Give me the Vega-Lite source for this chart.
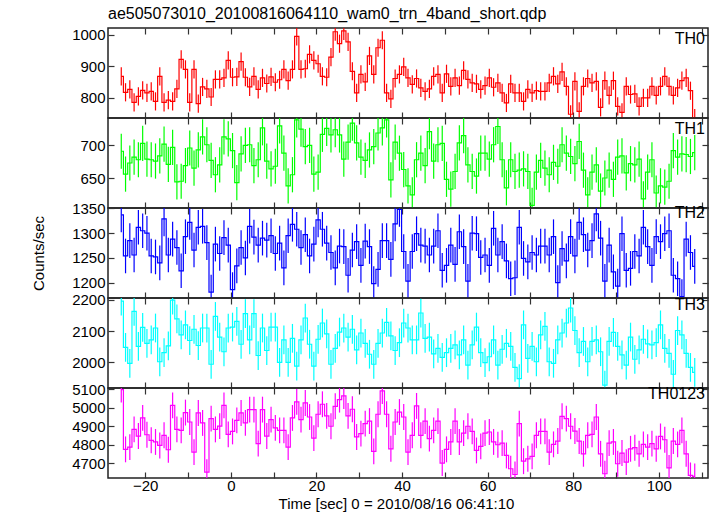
{
"$schema":"https://vega.github.io/schema/vega-lite/v6.json",
"background":"white",
"padding":{"left":30,"top":5,"right":5,"bottom":5},
"title":{"text":"ae505073010_20100816064110_wam0_trn_4band_short.qdp","anchor":"start","frame":"group","fontSize":16,"fontWeight":"normal","font":"Liberation Sans","color":"#000","offset":5},
"config":{
 "font":"Liberation Sans",
 "view":{"stroke":"#222","strokeWidth":1.5},
 "axis":{"labelFont":"Liberation Sans","labelFontSize":15,"labelColor":"#000","tickColor":"#333","tickSize":-6,"tickWidth":1.2,"domain":false,"grid":false,"titleFont":"Liberation Sans","titleFontSize":15,"titleFontWeight":"normal","titleColor":"#000","labelPadding":9,"format":"d"}
},
"datasets":{
"th0":[
{"t":-25.6,"v":868,"e":29},{"t":-24.6,"v":817,"e":29},{"t":-23.6,"v":826,"e":29},{"t":-22.6,"v":785,"e":29},{"t":-21.6,"v":804,"e":29},{"t":-20.6,"v":823,"e":29},{"t":-19.6,"v":815,"e":29},{"t":-18.6,"v":820,"e":29},{"t":-17.6,"v":788,"e":29},{"t":-16.6,"v":868,"e":29},
{"t":-15.6,"v":785,"e":29},{"t":-14.6,"v":792,"e":29},{"t":-13.6,"v":788,"e":29},{"t":-12.6,"v":828,"e":29},{"t":-11.6,"v":922,"e":29},{"t":-10.6,"v":890,"e":29},{"t":-9.6,"v":785,"e":29},{"t":-8.6,"v":890,"e":29},{"t":-7.6,"v":781,"e":29},{"t":-6.6,"v":834,"e":29},
{"t":-5.6,"v":828,"e":29},{"t":-4.6,"v":802,"e":29},{"t":-3.6,"v":858,"e":29},{"t":-2.6,"v":858,"e":29},{"t":-1.6,"v":863,"e":29},{"t":-0.6,"v":919,"e":29},{"t":0.4,"v":865,"e":29},{"t":1.4,"v":866,"e":29},{"t":2.4,"v":915,"e":29},{"t":3.4,"v":865,"e":29},
{"t":4.4,"v":834,"e":29},{"t":5.4,"v":868,"e":29},{"t":6.4,"v":826,"e":29},{"t":7.4,"v":863,"e":29},{"t":8.4,"v":845,"e":29},{"t":9.4,"v":866,"e":29},{"t":10.4,"v":849,"e":29},{"t":11.4,"v":857,"e":29},{"t":12.4,"v":890,"e":29},{"t":13.4,"v":854,"e":29},
{"t":14.4,"v":890,"e":29},{"t":15.4,"v":995,"e":29},{"t":16.4,"v":890,"e":29},{"t":17.4,"v":892,"e":29},{"t":18.4,"v":938,"e":29},{"t":19.4,"v":919,"e":29},{"t":20.4,"v":908,"e":29},{"t":21.4,"v":868,"e":29},{"t":22.4,"v":865,"e":29},{"t":23.4,"v":929,"e":29},
{"t":24.4,"v":1010,"e":29},{"t":25.4,"v":972,"e":29},{"t":26.4,"v":1013,"e":29},{"t":27.4,"v":978,"e":29},{"t":28.4,"v":884,"e":29},{"t":29.4,"v":815,"e":29},{"t":30.4,"v":874,"e":29},{"t":31.4,"v":850,"e":29},{"t":32.4,"v":933,"e":29},{"t":33.4,"v":874,"e":29},
{"t":34.4,"v":959,"e":29},{"t":35.4,"v":983,"e":29},{"t":36.4,"v":815,"e":29},{"t":37.4,"v":796,"e":29},{"t":38.4,"v":861,"e":29},{"t":39.4,"v":874,"e":29},{"t":40.4,"v":898,"e":29},{"t":41.4,"v":863,"e":29},{"t":42.4,"v":842,"e":29},
{"t":43.4,"v":861,"e":29},{"t":44.4,"v":831,"e":29},{"t":45.4,"v":820,"e":29},{"t":46.4,"v":828,"e":29},{"t":47.4,"v":868,"e":29},{"t":48.4,"v":874,"e":29},{"t":49.4,"v":815,"e":29},{"t":50.4,"v":876,"e":29},{"t":51.4,"v":836,"e":29},{"t":52.4,"v":863,"e":29},
{"t":53.4,"v":838,"e":29},{"t":54.4,"v":887,"e":29},{"t":55.4,"v":858,"e":29},{"t":56.4,"v":847,"e":29},{"t":57.4,"v":844,"e":29},{"t":58.4,"v":826,"e":29},{"t":59.4,"v":838,"e":29},{"t":60.4,"v":863,"e":29},{"t":61.4,"v":833,"e":29},{"t":62.4,"v":847,"e":29},
{"t":63.4,"v":815,"e":29},{"t":64.4,"v":783,"e":29},{"t":65.4,"v":844,"e":29},{"t":66.4,"v":815,"e":29},{"t":67.4,"v":815,"e":29},{"t":68.4,"v":788,"e":29},{"t":69.4,"v":826,"e":29},{"t":70.4,"v":815,"e":29},{"t":71.4,"v":822,"e":29},{"t":72.4,"v":820,"e":29},
{"t":73.4,"v":820,"e":29},
{"t":74.4,"v":847,"e":29},{"t":75.4,"v":868,"e":29},{"t":76.4,"v":844,"e":29},{"t":77.4,"v":882,"e":29},{"t":78.4,"v":836,"e":29},{"t":79.4,"v":747,"e":29},{"t":80.4,"v":852,"e":29},{"t":81.4,"v":756,"e":29},{"t":82.4,"v":836,"e":29},{"t":83.4,"v":861,"e":29},
{"t":84.4,"v":847,"e":29},{"t":85.4,"v":852,"e":29},{"t":86.4,"v":769,"e":29},{"t":87.4,"v":854,"e":29},{"t":88.4,"v":807,"e":29},{"t":89.4,"v":854,"e":29},{"t":90.4,"v":772,"e":29},{"t":91.4,"v":753,"e":29},{"t":92.4,"v":836,"e":29},{"t":93.4,"v":810,"e":29},
{"t":94.4,"v":812,"e":29},{"t":95.4,"v":772,"e":29},{"t":96.4,"v":799,"e":29},{"t":97.4,"v":799,"e":29},{"t":98.4,"v":836,"e":29},{"t":99.4,"v":807,"e":29},{"t":100.4,"v":836,"e":29},{"t":101.4,"v":868,"e":29},{"t":102.4,"v":836,"e":29},{"t":103.4,"v":807,"e":29},
{"t":104.4,"v":831,"e":29},{"t":105.4,"v":854,"e":29},{"t":106.4,"v":863,"e":29},{"t":107.4,"v":822,"e":29},{"t":108.4,"v":735,"e":29}
],
"th1":[
{"t":-25.6,"v":691,"e":27},{"t":-24.6,"v":656,"e":27},{"t":-23.6,"v":673,"e":27},{"t":-22.6,"v":682,"e":27},{"t":-21.6,"v":678,"e":27},{"t":-20.6,"v":703,"e":27},{"t":-19.6,"v":679,"e":27},{"t":-18.6,"v":678,"e":27},{"t":-17.6,"v":676,"e":27},{"t":-16.6,"v":684,"e":27},
{"t":-15.6,"v":702,"e":27},{"t":-14.6,"v":671,"e":27},{"t":-13.6,"v":697,"e":27},{"t":-12.6,"v":644,"e":27},{"t":-11.6,"v":645,"e":27},{"t":-10.6,"v":669,"e":27},{"t":-9.6,"v":696,"e":27},{"t":-8.6,"v":665,"e":27},{"t":-7.6,"v":693,"e":27},{"t":-6.6,"v":713,"e":27},
{"t":-5.6,"v":701,"e":27},{"t":-4.6,"v":677,"e":27},{"t":-3.6,"v":655,"e":27},{"t":-2.6,"v":670,"e":27},{"t":-1.6,"v":713,"e":27},{"t":-0.6,"v":710,"e":27},{"t":0.4,"v":692,"e":27},{"t":1.4,"v":643,"e":27},{"t":2.4,"v":687,"e":27},{"t":3.4,"v":700,"e":27},
{"t":4.4,"v":701,"e":27},{"t":5.4,"v":669,"e":27},{"t":6.4,"v":678,"e":27},{"t":7.4,"v":727,"e":27},{"t":8.4,"v":676,"e":27},{"t":9.4,"v":664,"e":27},{"t":10.4,"v":668,"e":27},{"t":11.4,"v":730,"e":27},{"t":12.4,"v":688,"e":27},{"t":13.4,"v":638,"e":27},
{"t":14.4,"v":655,"e":27},{"t":15.4,"v":739,"e":27},{"t":16.4,"v":725,"e":27},{"t":17.4,"v":698,"e":27},{"t":18.4,"v":700,"e":27},{"t":19.4,"v":656,"e":27},{"t":20.4,"v":659,"e":27},{"t":21.4,"v":717,"e":27},{"t":22.4,"v":726,"e":27},{"t":23.4,"v":716,"e":27},
{"t":24.4,"v":724,"e":27},{"t":25.4,"v":716,"e":27},{"t":26.4,"v":679,"e":27},{"t":27.4,"v":705,"e":27},{"t":28.4,"v":734,"e":27},{"t":29.4,"v":704,"e":27},{"t":30.4,"v":682,"e":27},{"t":31.4,"v":677,"e":27},{"t":32.4,"v":693,"e":27},{"t":33.4,"v":698,"e":27},
{"t":34.4,"v":719,"e":27},{"t":35.4,"v":727,"e":27},{"t":36.4,"v":739,"e":27},{"t":37.4,"v":647,"e":27},{"t":38.4,"v":705,"e":27},{"t":39.4,"v":688,"e":27},{"t":40.4,"v":663,"e":27},{"t":41.4,"v":638,"e":27},{"t":42.4,"v":624,"e":27},
{"t":43.4,"v":678,"e":27},{"t":44.4,"v":688,"e":27},{"t":45.4,"v":669,"e":27},{"t":46.4,"v":721,"e":27},{"t":47.4,"v":676,"e":27},{"t":48.4,"v":701,"e":27},{"t":49.4,"v":703,"e":27},{"t":50.4,"v":648,"e":27},{"t":51.4,"v":633,"e":27},{"t":52.4,"v":660,"e":27},
{"t":53.4,"v":704,"e":27},{"t":54.4,"v":715,"e":27},{"t":55.4,"v":670,"e":27},{"t":56.4,"v":660,"e":27},{"t":57.4,"v":653,"e":27},{"t":58.4,"v":688,"e":27},{"t":59.4,"v":688,"e":27},{"t":60.4,"v":679,"e":27},{"t":61.4,"v":701,"e":27},{"t":62.4,"v":729,"e":27},
{"t":63.4,"v":678,"e":27},{"t":64.4,"v":635,"e":27},{"t":65.4,"v":678,"e":27},{"t":66.4,"v":660,"e":27},{"t":67.4,"v":662,"e":27},{"t":68.4,"v":664,"e":27},{"t":69.4,"v":660,"e":27},{"t":70.4,"v":608,"e":27},{"t":71.4,"v":659,"e":27},{"t":72.4,"v":677,"e":27},
{"t":73.4,"v":665,"e":27},{"t":74.4,"v":655,"e":27},{"t":75.4,"v":674,"e":27},{"t":76.4,"v":668,"e":27},{"t":77.4,"v":701,"e":27},{"t":78.4,"v":688,"e":27},{"t":79.4,"v":683,"e":27},{"t":80.4,"v":672,"e":27},{"t":81.4,"v":706,"e":27},{"t":82.4,"v":662,"e":27},
{"t":83.4,"v":624,"e":27},{"t":84.4,"v":659,"e":27},{"t":85.4,"v":670,"e":27},{"t":86.4,"v":630,"e":27},{"t":87.4,"v":650,"e":27},{"t":88.4,"v":662,"e":27},{"t":89.4,"v":648,"e":27},{"t":90.4,"v":682,"e":27},{"t":91.4,"v":684,"e":27},{"t":92.4,"v":658,"e":27},
{"t":93.4,"v":672,"e":27},{"t":94.4,"v":670,"e":27},{"t":95.4,"v":679,"e":27},{"t":96.4,"v":618,"e":27},{"t":97.4,"v":659,"e":27},{"t":98.4,"v":678,"e":27},{"t":99.4,"v":627,"e":27},{"t":100.4,"v":638,"e":27},{"t":101.4,"v":636,"e":27},{"t":102.4,"v":645,"e":27},
{"t":103.4,"v":692,"e":27},{"t":104.4,"v":682,"e":27},{"t":105.4,"v":687,"e":27},{"t":106.4,"v":686,"e":27},{"t":107.4,"v":683,"e":27},{"t":108.4,"v":689,"e":27}
],
"th2":[
{"t":-25.6,"v":1337,"e":35},{"t":-24.6,"v":1254,"e":35},{"t":-23.6,"v":1285,"e":35},{"t":-22.6,"v":1256,"e":35},{"t":-21.6,"v":1312,"e":35},{"t":-20.6,"v":1305,"e":35},{"t":-19.6,"v":1300,"e":35},{"t":-18.6,"v":1254,"e":35},{"t":-17.6,"v":1252,"e":35},{"t":-16.6,"v":1240,"e":35},
{"t":-15.6,"v":1329,"e":35},{"t":-14.6,"v":1256,"e":35},{"t":-13.6,"v":1288,"e":35},{"t":-12.6,"v":1271,"e":35},{"t":-11.6,"v":1224,"e":35},{"t":-10.6,"v":1293,"e":35},{"t":-9.6,"v":1322,"e":35},{"t":-8.6,"v":1266,"e":35},{"t":-7.6,"v":1312,"e":35},{"t":-6.6,"v":1314,"e":35},
{"t":-5.6,"v":1281,"e":35},{"t":-4.6,"v":1181,"e":35},{"t":-3.6,"v":1278,"e":35},{"t":-2.6,"v":1259,"e":35},{"t":-1.6,"v":1291,"e":35},{"t":-0.6,"v":1276,"e":35},{"t":0.4,"v":1186,"e":35},{"t":1.4,"v":1234,"e":35},{"t":2.4,"v":1271,"e":35},{"t":3.4,"v":1250,"e":35},
{"t":4.4,"v":1314,"e":35},{"t":5.4,"v":1292,"e":35},{"t":6.4,"v":1276,"e":35},{"t":7.4,"v":1290,"e":35},{"t":8.4,"v":1286,"e":35},{"t":9.4,"v":1295,"e":35},{"t":10.4,"v":1259,"e":35},{"t":11.4,"v":1280,"e":35},{"t":12.4,"v":1230,"e":35},{"t":13.4,"v":1295,"e":35},
{"t":14.4,"v":1318,"e":35},{"t":15.4,"v":1308,"e":35},{"t":16.4,"v":1271,"e":35},{"t":17.4,"v":1297,"e":35},{"t":18.4,"v":1254,"e":35},{"t":19.4,"v":1278,"e":35},{"t":20.4,"v":1327,"e":35},{"t":21.4,"v":1308,"e":35},{"t":22.4,"v":1280,"e":35},{"t":23.4,"v":1261,"e":35},
{"t":24.4,"v":1230,"e":35},{"t":25.4,"v":1274,"e":35},{"t":26.4,"v":1273,"e":35},{"t":27.4,"v":1215,"e":35},{"t":28.4,"v":1266,"e":35},{"t":29.4,"v":1283,"e":35},{"t":30.4,"v":1235,"e":35},{"t":31.4,"v":1284,"e":35},{"t":32.4,"v":1273,"e":35},{"t":33.4,"v":1198,"e":35},
{"t":34.4,"v":1227,"e":35},{"t":35.4,"v":1285,"e":35},{"t":36.4,"v":1285,"e":35},{"t":37.4,"v":1247,"e":35},{"t":38.4,"v":1319,"e":35},{"t":39.4,"v":1348,"e":35},{"t":40.4,"v":1263,"e":35},{"t":41.4,"v":1203,"e":35},{"t":42.4,"v":1263,"e":35},
{"t":43.4,"v":1299,"e":35},{"t":44.4,"v":1276,"e":35},{"t":45.4,"v":1274,"e":35},{"t":46.4,"v":1256,"e":35},{"t":47.4,"v":1274,"e":35},{"t":48.4,"v":1305,"e":35},{"t":49.4,"v":1225,"e":35},{"t":50.4,"v":1235,"e":35},{"t":51.4,"v":1276,"e":35},{"t":52.4,"v":1237,"e":35},
{"t":53.4,"v":1303,"e":35},{"t":54.4,"v":1273,"e":35},{"t":55.4,"v":1203,"e":35},{"t":56.4,"v":1300,"e":35},{"t":57.4,"v":1299,"e":35},{"t":58.4,"v":1251,"e":35},{"t":59.4,"v":1256,"e":35},{"t":60.4,"v":1235,"e":35},{"t":61.4,"v":1310,"e":35},{"t":62.4,"v":1256,"e":35},
{"t":63.4,"v":1283,"e":35},{"t":64.4,"v":1244,"e":35},{"t":65.4,"v":1208,"e":35},{"t":66.4,"v":1210,"e":35},{"t":67.4,"v":1312,"e":35},{"t":68.4,"v":1249,"e":35},{"t":69.4,"v":1242,"e":35},{"t":70.4,"v":1261,"e":35},{"t":71.4,"v":1256,"e":35},{"t":72.4,"v":1274,"e":35},
{"t":73.4,"v":1274,"e":35},
{"t":74.4,"v":1256,"e":35},{"t":75.4,"v":1293,"e":35},{"t":76.4,"v":1200,"e":35},{"t":77.4,"v":1269,"e":35},{"t":78.4,"v":1244,"e":35},{"t":79.4,"v":1293,"e":35},{"t":80.4,"v":1254,"e":35},{"t":81.4,"v":1322,"e":35},{"t":82.4,"v":1297,"e":35},{"t":83.4,"v":1266,"e":35},
{"t":84.4,"v":1285,"e":35},{"t":85.4,"v":1339,"e":35},{"t":86.4,"v":1290,"e":35},{"t":87.4,"v":1203,"e":35},{"t":88.4,"v":1276,"e":35},{"t":89.4,"v":1222,"e":35},{"t":90.4,"v":1193,"e":35},{"t":91.4,"v":1299,"e":35},{"t":92.4,"v":1225,"e":35},{"t":93.4,"v":1229,"e":35},
{"t":94.4,"v":1263,"e":35},{"t":95.4,"v":1254,"e":35},{"t":96.4,"v":1312,"e":35},{"t":97.4,"v":1273,"e":35},{"t":98.4,"v":1235,"e":35},{"t":99.4,"v":1293,"e":35},{"t":100.4,"v":1283,"e":35},{"t":101.4,"v":1299,"e":35},{"t":102.4,"v":1305,"e":35},{"t":103.4,"v":1215,"e":35},
{"t":104.4,"v":1208,"e":35},{"t":105.4,"v":1172,"e":35},{"t":106.4,"v":1288,"e":35},{"t":107.4,"v":1261,"e":35},{"t":108.4,"v":1233,"e":35}
],
"th3":[
{"t":-25.6,"v":2196,"e":46},{"t":-24.6,"v":2048,"e":46},{"t":-23.6,"v":1997,"e":46},{"t":-22.6,"v":2163,"e":46},{"t":-21.6,"v":2051,"e":46},{"t":-20.6,"v":2112,"e":46},{"t":-19.6,"v":2061,"e":46},{"t":-18.6,"v":2072,"e":46},{"t":-17.6,"v":2110,"e":46},{"t":-16.6,"v":2002,"e":46},
{"t":-15.6,"v":2031,"e":46},{"t":-14.6,"v":2053,"e":46},{"t":-13.6,"v":2199,"e":46},{"t":-12.6,"v":2139,"e":46},{"t":-11.6,"v":2088,"e":46},{"t":-10.6,"v":2120,"e":46},{"t":-9.6,"v":2070,"e":46},{"t":-8.6,"v":2106,"e":46},{"t":-7.6,"v":2054,"e":46},{"t":-6.6,"v":2110,"e":46},
{"t":-5.6,"v":2110,"e":46},{"t":-4.6,"v":1994,"e":46},{"t":-3.6,"v":2147,"e":46},{"t":-2.6,"v":2081,"e":46},{"t":-1.6,"v":2034,"e":46},{"t":-0.6,"v":2110,"e":46},{"t":0.4,"v":2113,"e":46},{"t":1.4,"v":2131,"e":46},{"t":2.4,"v":2058,"e":46},{"t":3.4,"v":2156,"e":46},
{"t":4.4,"v":2072,"e":46},{"t":5.4,"v":2156,"e":46},{"t":6.4,"v":2022,"e":46},{"t":7.4,"v":2110,"e":46},{"t":8.4,"v":2038,"e":46},{"t":9.4,"v":2113,"e":46},{"t":10.4,"v":2113,"e":46},{"t":11.4,"v":2000,"e":46},{"t":12.4,"v":2072,"e":46},{"t":13.4,"v":2000,"e":46},
{"t":14.4,"v":2077,"e":46},{"t":15.4,"v":1988,"e":46},{"t":16.4,"v":2072,"e":46},{"t":17.4,"v":2142,"e":46},{"t":18.4,"v":2058,"e":46},{"t":19.4,"v":1988,"e":46},{"t":20.4,"v":2074,"e":46},{"t":21.4,"v":2126,"e":46},{"t":22.4,"v":2091,"e":46},{"t":23.4,"v":1994,"e":46},
{"t":24.4,"v":2045,"e":46},{"t":25.4,"v":2097,"e":46},{"t":26.4,"v":2110,"e":46},{"t":27.4,"v":2081,"e":46},{"t":28.4,"v":2106,"e":46},{"t":29.4,"v":2040,"e":46},{"t":30.4,"v":2094,"e":46},{"t":31.4,"v":2061,"e":46},{"t":32.4,"v":2026,"e":46},{"t":33.4,"v":1994,"e":46},
{"t":34.4,"v":2061,"e":46},{"t":35.4,"v":2094,"e":46},{"t":36.4,"v":2128,"e":46},{"t":37.4,"v":2085,"e":46},{"t":38.4,"v":2038,"e":46},{"t":39.4,"v":2063,"e":46},{"t":40.4,"v":2126,"e":46},{"t":41.4,"v":2110,"e":46},{"t":42.4,"v":2072,"e":46},
{"t":43.4,"v":2072,"e":46},{"t":44.4,"v":2158,"e":46},{"t":45.4,"v":2077,"e":46},{"t":46.4,"v":2081,"e":46},{"t":47.4,"v":2027,"e":46},{"t":48.4,"v":2045,"e":46},{"t":49.4,"v":2016,"e":46},{"t":50.4,"v":2031,"e":46},{"t":51.4,"v":2045,"e":46},{"t":52.4,"v":2056,"e":46},
{"t":53.4,"v":2024,"e":46},{"t":54.4,"v":2072,"e":46},{"t":55.4,"v":1991,"e":46},{"t":56.4,"v":2056,"e":46},{"t":57.4,"v":2113,"e":46},{"t":58.4,"v":2031,"e":46},{"t":59.4,"v":1999,"e":46},{"t":60.4,"v":2018,"e":46},{"t":61.4,"v":2072,"e":46},{"t":62.4,"v":1991,"e":46},
{"t":63.4,"v":2042,"e":46},{"t":64.4,"v":2061,"e":46},{"t":65.4,"v":2051,"e":46},{"t":66.4,"v":1984,"e":46},{"t":67.4,"v":1948,"e":46},{"t":68.4,"v":2120,"e":46},{"t":69.4,"v":2013,"e":46},{"t":70.4,"v":2051,"e":46},{"t":71.4,"v":2002,"e":46},{"t":72.4,"v":2088,"e":46},
{"t":73.4,"v":2115,"e":46},{"t":74.4,"v":2002,"e":46},{"t":75.4,"v":1997,"e":46},{"t":76.4,"v":2072,"e":46},{"t":77.4,"v":2094,"e":46},{"t":78.4,"v":2126,"e":46},{"t":79.4,"v":2174,"e":46},{"t":80.4,"v":2102,"e":46},{"t":81.4,"v":2031,"e":46},{"t":82.4,"v":2067,"e":46},
{"t":83.4,"v":2002,"e":46},{"t":84.4,"v":2067,"e":46},{"t":85.4,"v":2072,"e":46},{"t":86.4,"v":2034,"e":46},{"t":87.4,"v":1927,"e":46},{"t":88.4,"v":2067,"e":46},{"t":89.4,"v":2096,"e":46},{"t":90.4,"v":2051,"e":46},{"t":91.4,"v":2024,"e":46},{"t":92.4,"v":1991,"e":46},
{"t":93.4,"v":2081,"e":46},{"t":94.4,"v":2010,"e":46},{"t":95.4,"v":2040,"e":46},{"t":96.4,"v":2074,"e":46},{"t":97.4,"v":2059,"e":46},{"t":98.4,"v":2056,"e":46},{"t":99.4,"v":2063,"e":46},{"t":100.4,"v":2120,"e":46},{"t":101.4,"v":2045,"e":46},{"t":102.4,"v":2029,"e":46},
{"t":103.4,"v":1962,"e":46},{"t":104.4,"v":2102,"e":46},{"t":105.4,"v":2088,"e":46},{"t":106.4,"v":2029,"e":46},{"t":107.4,"v":1984,"e":46},{"t":108.4,"v":1968,"e":46}
],
"th4":[
{"t":-25.6,"v":5099,"e":70},{"t":-24.6,"v":4776,"e":70},{"t":-23.6,"v":4788,"e":70},{"t":-22.6,"v":4884,"e":70},{"t":-21.6,"v":4848,"e":70},{"t":-20.6,"v":4946,"e":70},{"t":-19.6,"v":4855,"e":70},{"t":-18.6,"v":4825,"e":70},{"t":-17.6,"v":4816,"e":70},{"t":-16.6,"v":4797,"e":70},
{"t":-15.6,"v":4852,"e":70},{"t":-14.6,"v":4774,"e":70},{"t":-13.6,"v":5014,"e":70},{"t":-12.6,"v":4884,"e":70},{"t":-11.6,"v":4879,"e":70},{"t":-10.6,"v":4975,"e":70},{"t":-9.6,"v":4924,"e":70},{"t":-8.6,"v":4761,"e":70},{"t":-7.6,"v":4973,"e":70},{"t":-6.6,"v":4919,"e":70},
{"t":-5.6,"v":4653,"e":70},{"t":-4.6,"v":4942,"e":70},{"t":-3.6,"v":4884,"e":70},{"t":-2.6,"v":4902,"e":70},{"t":-1.6,"v":5014,"e":70},{"t":-0.6,"v":4857,"e":70},{"t":0.4,"v":4873,"e":70},{"t":1.4,"v":4933,"e":70},{"t":2.4,"v":4973,"e":70},{"t":3.4,"v":4919,"e":70},
{"t":4.4,"v":4991,"e":70},{"t":5.4,"v":4991,"e":70},{"t":6.4,"v":4807,"e":70},{"t":7.4,"v":4991,"e":70},{"t":8.4,"v":4848,"e":70},{"t":9.4,"v":4937,"e":70},{"t":10.4,"v":4892,"e":70},{"t":11.4,"v":4879,"e":70},{"t":12.4,"v":4879,"e":70},{"t":13.4,"v":4788,"e":70},
{"t":14.4,"v":4946,"e":70},{"t":15.4,"v":5033,"e":70},{"t":16.4,"v":4937,"e":70},{"t":17.4,"v":5027,"e":70},{"t":18.4,"v":4951,"e":70},{"t":19.4,"v":4837,"e":70},{"t":20.4,"v":4966,"e":70},{"t":21.4,"v":5020,"e":70},{"t":22.4,"v":4957,"e":70},{"t":23.4,"v":4901,"e":70},
{"t":24.4,"v":5009,"e":70},{"t":25.4,"v":5045,"e":70},{"t":26.4,"v":5065,"e":70},{"t":27.4,"v":4957,"e":70},{"t":28.4,"v":4993,"e":70},{"t":29.4,"v":4843,"e":70},{"t":30.4,"v":4861,"e":70},{"t":31.4,"v":4915,"e":70},{"t":32.4,"v":4929,"e":70},{"t":33.4,"v":4765,"e":70},
{"t":34.4,"v":4966,"e":70},{"t":35.4,"v":5092,"e":70},{"t":36.4,"v":4966,"e":70},{"t":37.4,"v":4779,"e":70},{"t":38.4,"v":4924,"e":70},{"t":39.4,"v":4978,"e":70},{"t":40.4,"v":4951,"e":70},{"t":41.4,"v":4761,"e":70},{"t":42.4,"v":4852,"e":70},
{"t":43.4,"v":5011,"e":70},{"t":44.4,"v":4852,"e":70},{"t":45.4,"v":4929,"e":70},{"t":46.4,"v":4834,"e":70},{"t":47.4,"v":4879,"e":70},{"t":48.4,"v":4929,"e":70},{"t":49.4,"v":4702,"e":70},{"t":50.4,"v":4776,"e":70},{"t":51.4,"v":4816,"e":70},{"t":52.4,"v":4929,"e":70},
{"t":53.4,"v":4816,"e":70},{"t":54.4,"v":4864,"e":70},{"t":55.4,"v":4901,"e":70},{"t":56.4,"v":4873,"e":70},{"t":57.4,"v":4770,"e":70},{"t":58.4,"v":4792,"e":70},{"t":59.4,"v":4864,"e":70},{"t":60.4,"v":4870,"e":70},{"t":61.4,"v":4816,"e":70},{"t":62.4,"v":4801,"e":70},
{"t":63.4,"v":4810,"e":70},{"t":64.4,"v":4743,"e":70},{"t":65.4,"v":4671,"e":70},{"t":66.4,"v":4640,"e":70},{"t":67.4,"v":4915,"e":70},{"t":68.4,"v":4712,"e":70},{"t":69.4,"v":4725,"e":70},{"t":70.4,"v":4738,"e":70},{"t":71.4,"v":4852,"e":70},{"t":72.4,"v":4873,"e":70},
{"t":73.4,"v":4873,"e":70},
{"t":74.4,"v":4761,"e":70},{"t":75.4,"v":4803,"e":70},{"t":76.4,"v":4821,"e":70},{"t":77.4,"v":4955,"e":70},{"t":78.4,"v":4942,"e":70},{"t":79.4,"v":4901,"e":70},{"t":80.4,"v":4875,"e":70},{"t":81.4,"v":4821,"e":70},{"t":82.4,"v":4752,"e":70},{"t":83.4,"v":4852,"e":70},
{"t":84.4,"v":4857,"e":70},{"t":85.4,"v":4951,"e":70},{"t":86.4,"v":4752,"e":70},{"t":87.4,"v":4644,"e":70},{"t":88.4,"v":4810,"e":70},{"t":89.4,"v":4816,"e":70},{"t":90.4,"v":4698,"e":70},{"t":91.4,"v":4756,"e":70},{"t":92.4,"v":4707,"e":70},{"t":93.4,"v":4779,"e":70},
{"t":94.4,"v":4785,"e":70},{"t":95.4,"v":4752,"e":70},{"t":96.4,"v":4803,"e":70},{"t":97.4,"v":4788,"e":70},{"t":98.4,"v":4807,"e":70},{"t":99.4,"v":4779,"e":70},{"t":100.4,"v":4846,"e":70},{"t":101.4,"v":4828,"e":70},{"t":102.4,"v":4676,"e":70},{"t":103.4,"v":4821,"e":70},
{"t":104.4,"v":4803,"e":70},{"t":105.4,"v":4879,"e":70},{"t":106.4,"v":4752,"e":70},{"t":107.4,"v":4635,"e":70},{"t":108.4,"v":4630,"e":70}
]
},
"spacing":0,
"bounds":"flush",
"vconcat":[
{"width":600,"height":90,"data":{"name":"th0"},
 "title":{"text":"TH0","anchor":"end","frame":"group","offset":-20,"fontSize":16,"fontWeight":"normal","dx":-3,"color":"#000"},
 "layer":[
  {"mark":{"type":"line","interpolate":"step","color":"#ff0000","strokeWidth":1.2},
   "encoding":{"x":{"field":"t","type":"quantitative","scale":{"domain":[-28.7,111.5],"nice":false,"zero":false},"axis":{"orient":"bottom","values":[-20,-10,0,10,20,30,40,50,60,70,80,90,100,110],"labels":false,"title":null}},
               "y":{"field":"v","type":"quantitative","scale":{"domain":[735,1022],"nice":false,"zero":false,"clamp":true},"axis":{"orient":"left","values":[800,900,1000],"title":null}}}},
  {"mark":{"type":"errorbar","color":"#ff0000","thickness":1.2},
   "encoding":{"x":{"field":"t","type":"quantitative","axis":{"orient":"top","values":[-20,-10,0,10,20,30,40,50,60,70,80,90,100,110],"labels":false,"title":null}},
               "y":{"field":"v","type":"quantitative","axis":{"orient":"right","values":[800,900,1000],"labels":false,"title":null}},
               "yError":{"field":"e"}}}
 ],
 "resolve":{"axis":{"x":"independent","y":"independent"}}},
{"width":600,"height":90,"data":{"name":"th1"},
 "title":{"text":"TH1","anchor":"end","frame":"group","offset":-20,"fontSize":16,"fontWeight":"normal","dx":-3,"color":"#000"},
 "layer":[
  {"mark":{"type":"line","interpolate":"step","color":"#00ff00","strokeWidth":1.2},
   "encoding":{"x":{"field":"t","type":"quantitative","scale":{"domain":[-28.7,111.5],"nice":false,"zero":false},"axis":{"orient":"bottom","values":[-20,-10,0,10,20,30,40,50,60,70,80,90,100,110],"labels":false,"title":null}},
               "y":{"field":"v","type":"quantitative","scale":{"domain":[604,742],"nice":false,"zero":false,"clamp":true},"axis":{"orient":"left","values":[650,700],"title":null}}}},
  {"mark":{"type":"errorbar","color":"#00ff00","thickness":1.2},
   "encoding":{"x":{"field":"t","type":"quantitative","axis":{"orient":"top","values":[-20,-10,0,10,20,30,40,50,60,70,80,90,100,110],"labels":false,"title":null}},
               "y":{"field":"v","type":"quantitative","axis":{"orient":"right","values":[650,700],"labels":false,"title":null}},
               "yError":{"field":"e"}}}
 ],
 "resolve":{"axis":{"x":"independent","y":"independent"}}},
{"width":600,"height":90,"data":{"name":"th2"},
 "title":{"text":"TH2","anchor":"end","frame":"group","offset":-20,"fontSize":16,"fontWeight":"normal","dx":-3,"color":"#000"},
 "layer":[
  {"mark":{"type":"line","interpolate":"step","color":"#0000ff","strokeWidth":1.2},
   "encoding":{"x":{"field":"t","type":"quantitative","scale":{"domain":[-28.7,111.5],"nice":false,"zero":false},"axis":{"orient":"bottom","values":[-20,-10,0,10,20,30,40,50,60,70,80,90,100,110],"labels":false,"title":null}},
               "y":{"field":"v","type":"quantitative","scale":{"domain":[1169,1351],"nice":false,"zero":false,"clamp":true},"axis":{"orient":"left","values":[1200,1250,1300,1350],"title":"Counts/sec","titlePadding":25}}}},
  {"mark":{"type":"errorbar","color":"#0000ff","thickness":1.2},
   "encoding":{"x":{"field":"t","type":"quantitative","axis":{"orient":"top","values":[-20,-10,0,10,20,30,40,50,60,70,80,90,100,110],"labels":false,"title":null}},
               "y":{"field":"v","type":"quantitative","axis":{"orient":"right","values":[1200,1250,1300,1350],"labels":false,"title":null}},
               "yError":{"field":"e"}}}
 ],
 "resolve":{"axis":{"x":"independent","y":"independent"}}},
{"width":600,"height":90,"data":{"name":"th3"},
 "title":{"text":"TH3","anchor":"end","frame":"group","offset":-20,"fontSize":16,"fontWeight":"normal","dx":-3,"color":"#000"},
 "layer":[
  {"mark":{"type":"line","interpolate":"step","color":"#00ffff","strokeWidth":1.2},
   "encoding":{"x":{"field":"t","type":"quantitative","scale":{"domain":[-28.7,111.5],"nice":false,"zero":false},"axis":{"orient":"bottom","values":[-20,-10,0,10,20,30,40,50,60,70,80,90,100,110],"labels":false,"title":null}},
               "y":{"field":"v","type":"quantitative","scale":{"domain":[1918,2206],"nice":false,"zero":false,"clamp":true},"axis":{"orient":"left","values":[2000,2100,2200],"title":null}}}},
  {"mark":{"type":"errorbar","color":"#00ffff","thickness":1.2},
   "encoding":{"x":{"field":"t","type":"quantitative","axis":{"orient":"top","values":[-20,-10,0,10,20,30,40,50,60,70,80,90,100,110],"labels":false,"title":null}},
               "y":{"field":"v","type":"quantitative","axis":{"orient":"right","values":[2000,2100,2200],"labels":false,"title":null}},
               "yError":{"field":"e"}}}
 ],
 "resolve":{"axis":{"x":"independent","y":"independent"}}},
{"width":600,"height":90,"data":{"name":"th4"},
 "title":{"text":"TH0123","anchor":"end","frame":"group","offset":-20,"fontSize":16,"fontWeight":"normal","dx":-3,"color":"#000"},
 "layer":[
  {"mark":{"type":"line","interpolate":"step","color":"#ff00ff","strokeWidth":1.2},
   "encoding":{"x":{"field":"t","type":"quantitative","scale":{"domain":[-28.7,111.5],"nice":false,"zero":false},"axis":{"orient":"bottom","values":[-20,-10,0,10,20,30,40,50,60,70,80,90,100,110],"labelExpr":"datum.value % 20 == 0 ? datum.label : ''","title":"Time [sec] 0 = 2010/08/16 06:41:10","labelPadding":6,"titlePadding":3,"titleX":288}},
               "y":{"field":"v","type":"quantitative","scale":{"domain":[4621,5108],"nice":false,"zero":false,"clamp":true},"axis":{"orient":"left","values":[4700,4800,4900,5000,5100],"title":null}}}},
  {"mark":{"type":"errorbar","color":"#ff00ff","thickness":1.2},
   "encoding":{"x":{"field":"t","type":"quantitative","axis":{"orient":"top","values":[-20,-10,0,10,20,30,40,50,60,70,80,90,100,110],"labels":false,"title":null}},
               "y":{"field":"v","type":"quantitative","axis":{"orient":"right","values":[4700,4800,4900,5000,5100],"labels":false,"title":null}},
               "yError":{"field":"e"}}}
 ],
 "resolve":{"axis":{"x":"independent","y":"independent"}}}
]
}
